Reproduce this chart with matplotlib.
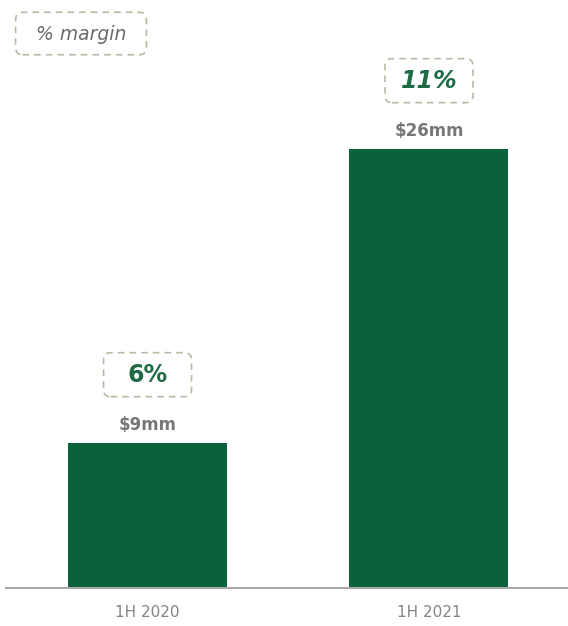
import matplotlib.pyplot as plt
from matplotlib import transforms
from matplotlib.patches import FancyBboxPatch

periods = ["1H 2020", "1H 2021"]
ebitda = [8.6, 26.0]          # $mm, bar heights
value_labels = ["$9mm", "$26mm"]
margins = ["6%", "11%"]

green = "#0b613b"
text_green = "#1d6a45"
dash_col = "#b7bba3"
grey = "#777777"

fig = plt.figure(figsize=(5.68, 6.26), dpi=100)
ax = fig.add_axes([6 / 568, 38 / 626, 562 / 568, 588 / 626])

x = range(len(periods))
ax.bar(x, ebitda, width=0.565, color=green, zorder=2)

ax.set_xlim(-0.503, 1.494)
ax.set_ylim(0, 34.8)
ax.set_xticks(list(x))
ax.set_xticklabels(periods, fontsize=11, color="#858585", family="DejaVu Sans")
ax.tick_params(axis="x", length=0, pad=12)
ax.set_yticks([])
for side in ["left", "right", "top"]:
    ax.spines[side].set_visible(False)
ax.spines["bottom"].set_color("#a8a8a8")
ax.spines["bottom"].set_linewidth(1.5)

for i, v in enumerate(ebitda):
    ax.annotate(value_labels[i], (i, v), xytext=(0, 13), textcoords="offset points",
                ha="center", va="center", fontsize=12, fontweight="bold",
                color=grey, family="DejaVu Sans")
    # dashed margin box, sized in pixels, anchored above the bar
    tr = transforms.Affine2D() + transforms.ScaledTranslation(i, v, ax.transData)
    box = FancyBboxPatch((-40, 50), 80, 36, boxstyle="round,pad=4,rounding_size=7",
                         transform=tr, facecolor="none", edgecolor=dash_col,
                         linestyle=(0, (4, 3)), linewidth=1.2, clip_on=False)
    ax.add_patch(box)
    style = "italic" if i == 1 else "normal"
    ax.annotate(margins[i], (i, v), xytext=(0, 68 * 0.72), textcoords="offset points",
                ha="center", va="center", fontsize=17, fontweight="bold",
                style=style, color=text_green, family="DejaVu Sans")

# "% margin" key box
key = FancyBboxPatch((19 / 568, 1 - 51 / 626), 124 / 568, 35 / 626,
                     boxstyle="round,pad=0.006,rounding_size=0.012",
                     transform=fig.transFigure, facecolor="none", edgecolor=dash_col,
                     linestyle=(0, (4, 3)), linewidth=1.2)
fig.patches.append(key)
fig.text(81 / 568, 1 - 34 / 626, "% margin", ha="center", va="center",
         fontsize=13.5, style="italic", color="#6a6a6a", family="DejaVu Sans")

fig.savefig("out.png", dpi=100)
